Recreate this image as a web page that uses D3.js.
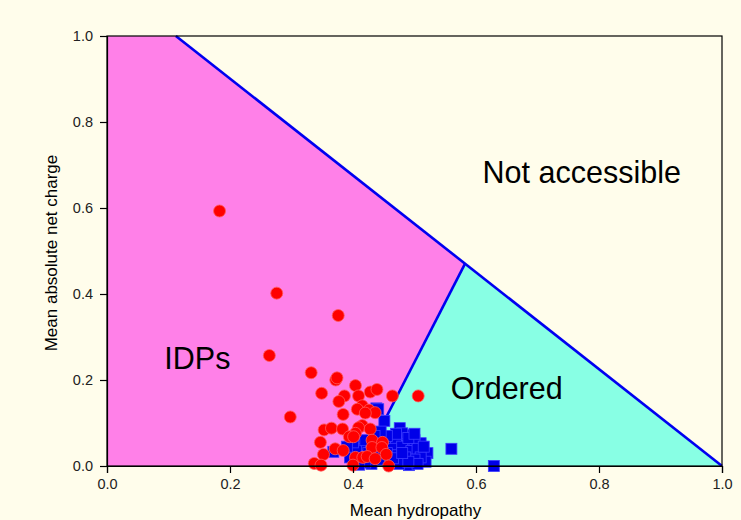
<!DOCTYPE html>
<html>
<head>
<meta charset="utf-8">
<script src="https://cdn.jsdelivr.net/npm/d3@7"></script>
<style>
  html, body { margin: 0; padding: 0; background: #fffdeb; }
  svg { display: block; }
  text { font-family: "Liberation Sans", Arial, Helvetica, sans-serif; }
</style>
</head>
<body>
<svg id="chart" width="741" height="520"></svg>
<script>
// Charge–hydropathy phase space: proteins plotted by mean hydropathy vs mean absolute net charge

const xTicks = [0.0, 0.2, 0.4, 0.6, 0.8, 1.0];
const yTicks = [0.0, 0.2, 0.4, 0.6, 0.8, 1.0];

// Intrinsically disordered proteins (hydropathy, |net charge|)
const idpHydropathy = [0.183,0.276,0.376,0.264,0.332,0.298,0.372,0.374,0.404,0.349,0.386,0.409,
  0.428,0.439,0.464,0.506,0.377,0.415,0.407,0.426,0.436,0.384,0.420,0.415,0.409,0.404,0.428,
  0.353,0.365,0.383,0.394,0.401,0.431,0.347,0.448,0.431,0.371,0.384,0.447,0.352,0.454,0.404,
  0.416,0.423,0.436,0.337,0.348,0.400,0.458];
const idpCharge = [0.593,0.402,0.350,0.257,0.217,0.114,0.200,0.205,0.187,0.169,0.163,0.163,
  0.172,0.178,0.163,0.163,0.150,0.140,0.132,0.130,0.124,0.120,0.123,0.094,0.089,0.076,0.086,
  0.084,0.088,0.086,0.068,0.068,0.060,0.055,0.055,0.043,0.040,0.036,0.043,0.027,0.027,0.020,
  0.020,0.022,0.017,0.006,0.002,0.002,0.000];

// Ordered (folded) proteins
const orderedHydropathy = [0.438,0.441,0.451,0.476,0.488,0.480,0.492,0.510,0.521,0.518,0.491,
  0.560,0.629,0.460,0.412,0.368,0.470,0.500,0.465,0.480,0.495,0.505,0.510,0.500,0.485,0.470,
  0.455,0.445,0.460,0.475,0.430,0.420,0.410,0.440,0.425,0.490,0.500,0.470,0.455,0.445,0.435,
  0.505,0.515,0.490,0.465,0.480,0.395,0.405,0.400,0.420,0.390];
const orderedCharge = [0.134,0.132,0.105,0.088,0.072,0.076,0.053,0.053,0.030,0.010,0.002,
  0.040,0.000,0.053,0.049,0.033,0.060,0.060,0.040,0.045,0.035,0.040,0.020,0.015,0.020,0.025,
  0.030,0.015,0.008,0.005,0.005,0.008,0.003,0.035,0.030,0.065,0.075,0.075,0.070,0.080,0.070,
  0.005,0.045,0.010,0.018,0.030,0.020,0.040,0.055,0.060,0.045];

// Boundary lines: accessible limit and the charge–hydropathy separator <R> = 2.785<H> - 1.151
const limitLine = [[0.112, 1.0], [1.0, 0.0]];
const sepSlope = 2.785, sepIntercept = -1.151;

const regionLabels = [
  { text: "Not accessible", x: 0.772, y: 0.658 },
  { text: "IDPs", x: 0.147, y: 0.226 },
  { text: "Ordered", x: 0.650, y: 0.156 }
];

const svg = d3.select("#chart");
const margin = { left: 107, right: 19, top: 36, bottom: 54 };
const W = 741, H = 520;

const x = d3.scaleLinear().domain([0, 1]).range([margin.left, W - margin.right]);
const y = d3.scaleLinear().domain([0, 1]).range([H - margin.bottom, margin.top]);

// intersection of the two boundary lines
const lx0 = limitLine[0][0], ly0 = limitLine[0][1], lx1 = limitLine[1][0], ly1 = limitLine[1][1];
const lm = (ly1 - ly0) / (lx1 - lx0);           // slope of limit line
const lb = ly0 - lm * lx0;
const ix = (lb - sepIntercept) / (sepSlope - lm);
const iy = sepSlope * ix + sepIntercept;
const sepX0 = -sepIntercept / sepSlope;

const poly = d3.line().x(d => x(d[0])).y(d => y(d[1]));

// plot background
svg.append("rect").attr("x", x(0)).attr("y", y(1)).attr("width", x(1) - x(0)).attr("height", y(0) - y(1))
  .attr("fill", "#fffdeb");

// disordered region
svg.append("path")
  .attr("d", poly([[0, 0], [0, 1], [lx0, ly0], [ix, iy], [sepX0, 0]]) + "Z")
  .attr("fill", "#ff80e8");

// ordered region
svg.append("path")
  .attr("d", poly([[sepX0, 0], [ix, iy], [lx1, ly1]]) + "Z")
  .attr("fill", "#88ffe4");

// boundary lines
svg.append("path").attr("d", poly(limitLine)).attr("stroke", "#0000f0").attr("stroke-width", 2.6).attr("fill", "none");
svg.append("path").attr("d", poly([[sepX0, 0], [ix, iy]])).attr("stroke", "#0000f0").attr("stroke-width", 2.6).attr("fill", "none");

// ordered proteins: blue squares
const sq = 11;
svg.append("g").selectAll("rect")
  .data(orderedHydropathy.map((h, i) => [h, orderedCharge[i]]))
  .join("rect")
  .attr("x", d => x(d[0]) - sq / 2)
  .attr("y", d => y(d[1]) - sq / 2)
  .attr("width", sq).attr("height", sq)
  .attr("fill", "#0000e8")
  .attr("stroke", "#3c3cff")
  .attr("stroke-width", 0.8);

// disordered proteins: red circles
svg.append("g").selectAll("circle")
  .data(idpHydropathy.map((h, i) => [h, idpCharge[i]]))
  .join("circle")
  .attr("cx", d => x(d[0]))
  .attr("cy", d => y(d[1]))
  .attr("r", 6)
  .attr("fill", "#ff0000")
  .attr("stroke", "#ff5a5a")
  .attr("stroke-width", 0.8);

// region labels
svg.append("g").selectAll("text")
  .data(regionLabels)
  .join("text")
  .attr("x", d => x(d.x))
  .attr("y", d => y(d.y))
  .attr("text-anchor", "middle")
  .attr("font-size", 30.5)
  .attr("fill", "#000")
  .text(d => d.text);

// frame
svg.append("rect").attr("x", x(0)).attr("y", y(1)).attr("width", x(1) - x(0)).attr("height", y(0) - y(1))
  .attr("fill", "none").attr("stroke", "#000").attr("stroke-width", 1.2);

// axes
const fmt = d3.format(".1f");
const xAxis = svg.append("g").attr("transform", `translate(0,${y(0)})`)
  .call(d3.axisBottom(x).tickValues(xTicks).tickFormat(fmt).tickSize(7).tickPadding(6));
const yAxis = svg.append("g").attr("transform", `translate(${x(0)},0)`)
  .call(d3.axisLeft(y).tickValues(yTicks).tickFormat(fmt).tickSize(7).tickPadding(7));
[xAxis, yAxis].forEach(g => {
  g.select(".domain").attr("stroke", "#000").attr("stroke-width", 1.2);
  g.selectAll(".tick line").attr("stroke", "#000").attr("stroke-width", 1.2);
  g.selectAll(".tick text").attr("font-size", 14.5).attr("fill", "#222")
    .attr("font-family", "'Liberation Sans', Arial, sans-serif");
});

// axis titles
svg.append("text")
  .attr("x", (x(0) + x(1)) / 2 + 1).attr("y", 516)
  .attr("text-anchor", "middle").attr("font-size", 17).attr("fill", "#000")
  .text("Mean hydropathy");
svg.append("text")
  .attr("transform", `translate(57,${(y(0) + y(1)) / 2 + 2}) rotate(-90)`)
  .attr("text-anchor", "middle").attr("font-size", 17).attr("fill", "#000")
  .text("Mean absolute net charge");
</script>
</body>
</html>
